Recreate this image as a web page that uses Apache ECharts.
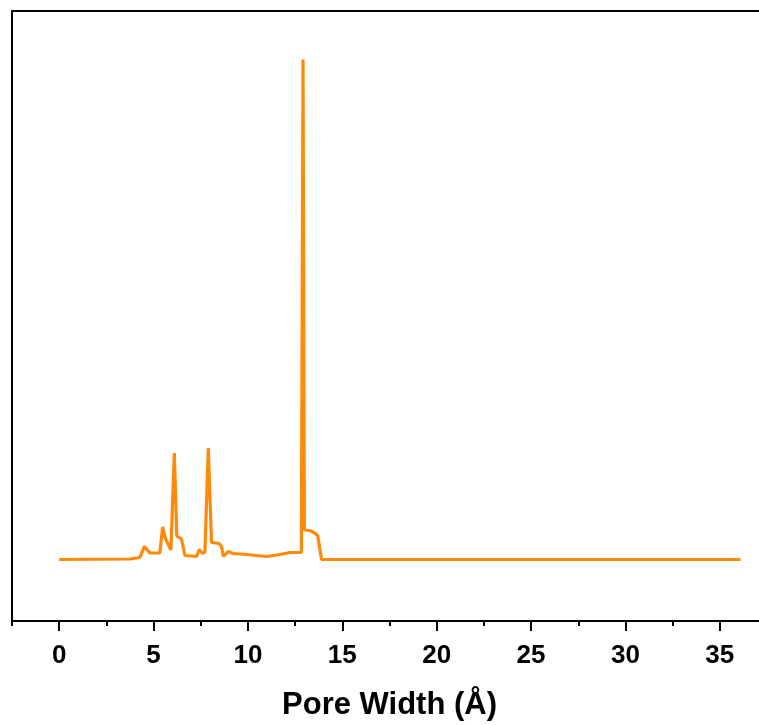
<!DOCTYPE html>
<html>
<head>
<meta charset="utf-8">
<script src="https://cdn.jsdelivr.net/npm/echarts@6/dist/echarts.min.js"></script>
<style>
  html, body { margin: 0; padding: 0; background: #ffffff; }
  #chart { width: 759px; height: 725px; }
</style>
</head>
<body>
<div id="chart"></div>
<script>
// Pore size distribution: pore width (Å) vs. differential pore volume (arb. units)
const poreWidth = [
  0, 3.74, 3.80, 4.27, 4.52, 4.80, 5.33, 5.48, 5.64, 5.92,
  6.10, 6.23, 6.48, 6.66, 7.28, 7.42, 7.60, 7.72, 7.90, 8.07,
  8.47, 8.60, 8.70, 8.95, 9.20, 9.93, 10.98, 11.69, 12.22, 12.83,
  12.92, 12.99, 13.28, 13.54, 13.70, 13.90, 36.1
];
const poreVolume = [
  0, 0.001, 0.004, 0.004, 0.026, 0.013, 0.013, 0.065, 0.041, 0.019,
  0.213, 0.047, 0.041, 0.008, 0.006, 0.020, 0.012, 0.015, 0.223, 0.034,
  0.032, 0.026, 0.006, 0.016, 0.012, 0.010, 0.006, 0.010, 0.014, 0.014,
  1.000, 0.059, 0.058, 0.053, 0.047, 0, 0
];
const majorTicks = [0, 5, 10, 15, 20, 25, 30, 35];
const minorTicks = [-2.5, 2.5, 7.5, 12.5, 17.5, 22.5, 27.5, 32.5];

const chart = echarts.init(document.getElementById('chart'));
const fontFam = 'Arial, "Liberation Sans", sans-serif';

chart.setOption({
  animation: false,
  backgroundColor: '#ffffff',
  grid: {
    left: 12, top: 11, width: 755, height: 610,
    outerBoundsMode: 'none', containLabel: false,
    show: true, borderColor: '#000', borderWidth: 2, backgroundColor: 'transparent'
  },
  xAxis: [
    {
      type: 'value', min: -2.5, max: 37.5,
      name: 'Pore Width (Å)', nameLocation: 'middle', nameGap: 69,
      nameTextStyle: { fontFamily: fontFam, fontWeight: 'bold', fontSize: 31, color: '#000' },
      axisLine: { show: true, onZero: false, lineStyle: { color: '#000', width: 2 } },
      axisTick: { show: true, inside: false, length: 10, customValues: majorTicks,
                  lineStyle: { color: '#000', width: 2 } },
      axisLabel: { show: true, customValues: majorTicks, margin: 22,
                   fontFamily: fontFam, fontWeight: 'bold', fontSize: 26, color: '#000' },
      splitLine: { show: false }
    },
    {
      type: 'value', min: -2.5, max: 37.5, position: 'bottom',
      axisLine: { show: false, onZero: false },
      axisTick: { show: true, inside: false, length: 5, customValues: minorTicks,
                  lineStyle: { color: '#000', width: 2 } },
      axisLabel: { show: false },
      splitLine: { show: false }
    }
  ],
  yAxis: {
    type: 'value', min: -0.123, max: 1.097,
    axisLine: { show: true, onZero: false, lineStyle: { color: '#000', width: 2 } },
    axisTick: { show: false },
    axisLabel: { show: false },
    splitLine: { show: false }
  },
  series: [{
    type: 'line',
    xAxisIndex: 0,
    data: poreWidth.map((w, i) => [w, poreVolume[i]]),
    showSymbol: false,
    lineStyle: { color: '#ff8a0a', width: 3.2 },
    itemStyle: { color: '#ff8a0a' }
  }]
});
</script>
</body>
</html>
